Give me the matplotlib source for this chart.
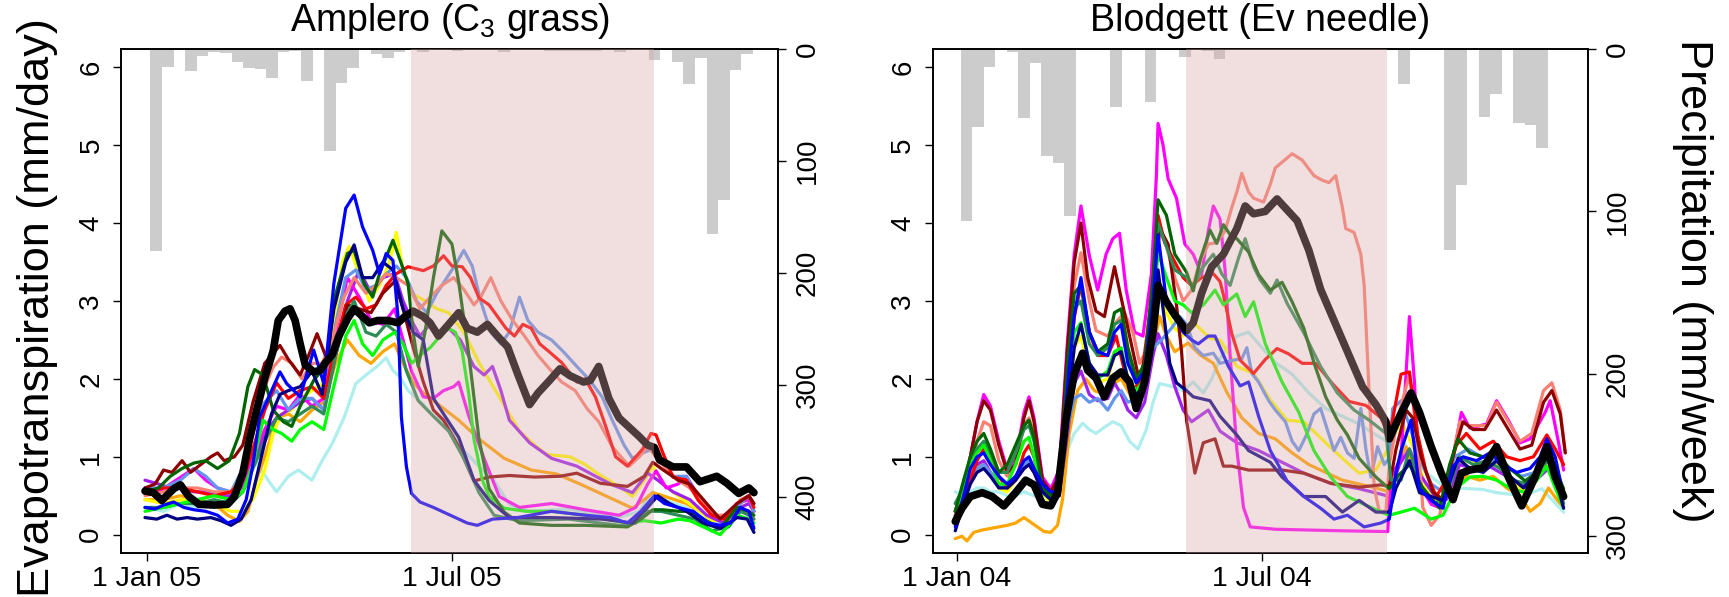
import numpy as np
import matplotlib
matplotlib.use("Agg")
from matplotlib import pyplot as plt

plt.rcParams['font.family'] = ['Liberation Sans', 'DejaVu Sans']
plt.rcParams['mathtext.default'] = 'regular'

# ---------------- Amplero (2005) ----------------
# weekly precipitation, mm/week
amp_precip = [180, 15.8, 0, 19.3, 6.3, 3, 3.9, 11.3, 17.3, 18.2, 25.6, 2.4, 1.8, 28.3, 0, 90.8,
              30, 17.3, 0, 4.5, 7.7, 2.4, 1, 3, 0, 0, 1.5, 0, 0, 0, 2.4, 0, 0, 0, 1.5, 1.5, 1.5,
              1.5, 1.5, 0, 2.4, 0, 0, 9.8, 0, 12, 31, 7.7, 165, 135, 18.8, 4.5]

# evapotranspiration (day of year, mm/day)
amp_obs = [(-1,0.56),(4,0.54),(9,0.44),(16,0.59),(20,0.64),(25,0.49),(31,0.39),(40,0.38),(48,0.39),
           (52,0.49),(57,0.79),(61,1.23),(66,1.67),(70,2.01),(75,2.36),(78,2.75),(82,2.87),(85,2.90),
           (88,2.75),(91,2.45),(94,2.18),(99,2.09),(103,2.11),(106,2.21),(110,2.31),(114,2.55),
           (119,2.77),(123,2.90),(128,2.80),(132,2.72),(137,2.75),(143,2.75),(149,2.72),(153,2.80),
           (158,2.87),(164,2.80),(168,2.72),(173,2.55),(179,2.70),(185,2.85),(190,2.65),(196,2.60),
           (202,2.70),(208,2.55),(214,2.41),(220,2.06),(227,1.67),(232,1.82),(238,1.96),(245,2.13),
           (251,2.04),(259,1.96),(263,1.98),(268,2.16),(274,1.75),(280,1.50),(285,1.40),(292,1.26),
           (297,1.15),(301,1.12),(304,0.96),(312,0.87),(320,0.87),(328,0.68),(338,0.75),(344,0.66),
           (351,0.53),(357,0.60),(360,0.54)]
amp_blue = [(-1,0.35),(5,0.33),(10,0.38),(16,0.42),(22,0.35),(28,0.32),(35,0.3),(42,0.25),(48,0.15),
            (54,0.2),(59,0.45),(63,0.9),(67,1.51),(72,1.75),(79,2.09),(83,1.94),(91,1.77),(99,2.37),
            (105,1.94),(111,3.23),(118,4.19),(123,4.36),(128,3.95),(134,3.65),(138,3.35),(142,3.61),
            (146,3.52),(149,2.8),(151,1.51),(154,0.87),(157,0.53),(162,0.42),(170,0.35),(180,0.25),
            (190,0.15),(196,0.12),(205,0.2),(220,0.22),(240,0.3),(260,0.25),(275,0.22),(285,0.15),
            (293,0.3),(301,0.5),(307,0.4),(315,0.35),(324,0.3),(333,0.15),(340,0.12),(346,0.15),
            (352,0.35),(357,0.3),(360,0.08)]
amp_navy = [(-1,0.22),(6,0.2),(12,0.25),(18,0.2),(24,0.22),(30,0.2),(38,0.22),(44,0.18),(50,0.12),
            (56,0.2),(62,0.45),(68,1.0),(74,1.55),(79,1.8),(84,1.85),(91,1.9),(98,2.1),(104,1.8),
            (111,2.9),(118,3.5),(123,3.72),(128,3.3),(134,3.3),(140,3.5),(146,3.4),(152,2.9),
            (158,2.6),(164,2.5),(170,1.75),(176,1.55),(185,1.25),(194,0.7),(203,0.44),(215,0.22),
            (240,0.22),(270,0.2),(288,0.15),(297,0.35),(303,0.5),(310,0.4),(320,0.3),(330,0.15),
            (340,0.08),(350,0.22),(356,0.2),(360,0.03)]
amp_red = [(-1,0.55),(10,0.6),(20,0.6),(30,0.55),(40,0.5),(50,0.55),(57,0.7),(63,1.1),(70,1.6),
           (77,1.95),(84,1.75),(91,1.85),(98,1.9),(105,1.75),(112,2.45),(118,2.95),(124,3.05),
           (130,2.9),(136,2.95),(142,3.2),(148,3.35),(155,3.44),(164,3.39),(170,3.45),(176,3.58),
           (181,3.45),(187,3.44),(192,3.3),(197,3.04),(203,2.95),(208,2.8),(213,2.65),(218,2.55),
           (223,2.7),(228,2.65),(233,2.45),(238,2.36),(246,2.21),(255,1.96),(260,2.0),(266,1.77),
           (272,1.4),(278,1.0),(285,0.88),(290,1.0),(294,1.1),(299,1.3),(302,1.28),(306,1.05),
           (312,0.74),(320,0.7),(327,0.44),(335,0.25),(342,0.2),(350,0.4),(357,0.5),(360,0.35)]
amp_salmon = [(-1,0.5),(10,0.55),(20,0.6),(30,0.6),(40,0.55),(50,0.55),(57,0.75),(63,1.3),(70,1.9),
              (75,2.15),(80,2.28),(86,2.2),(92,2.0),(98,2.2),(104,2.2),(110,2.5),(117,3.05),
              (123,3.3),(130,3.1),(136,3.2),(142,3.35),(148,3.3),(155,3.2),(162,2.9),(168,3.05),
              (175,3.2),(182,3.3),(188,3.15),(194,2.95),(198,3.05),(204,3.3),(210,3.0),(217,2.75),
              (224,2.55),(232,2.3),(240,2.1),(246,1.96),(254,1.85),(261,1.62),(268,1.45),(276,1.13),
              (286,0.88),(292,1.0),(297,1.13),(302,1.0),(308,0.85),(315,0.7),(322,0.6),(330,0.4),
              (338,0.25),(345,0.25),(352,0.45),(357,0.5),(360,0.4)]
amp_cornflower = [(-1,0.6),(10,0.6),(20,0.7),(28,0.85),(35,0.75),(42,0.6),(50,0.55),(57,0.85),
                  (63,1.45),(70,1.7),(77,1.85),(84,1.6),(91,1.75),(98,1.75),(105,1.6),(112,2.7),
                  (118,3.3),(124,3.4),(130,3.15),(136,3.2),(142,3.35),(148,3.45),(154,3.3),(160,3.0),
                  (166,2.85),(172,3.1),(178,3.3),(184,3.5),(188,3.65),(193,3.45),(198,3.0),(204,2.6),
                  (210,2.45),(215,2.6),(221,3.05),(226,2.75),(232,2.6),(240,2.5),(247,2.35),
                  (255,2.16),(262,2.0),(270,1.77),(276,1.47),(283,1.15),(288,0.98),(294,1.05),
                  (300,1.1),(305,0.95),(312,0.75),(320,0.75),(328,0.45),(336,0.25),(344,0.2),
                  (352,0.4),(357,0.5),(360,0.3)]
amp_darkgreen = [(-1,0.55),(7,0.6),(14,0.75),(21,0.85),(28,0.92),(35,0.95),(42,0.85),(49,0.95),
                 (55,1.3),(60,1.9),(64,2.12),(69,2.05),(75,1.6),(81,1.45),(86,1.39),(91,1.65),
                 (99,1.98),(107,2.2),(111,3.01),(119,3.61),(123,3.65),(129,3.22),(134,3.05),
                 (138,3.35),(146,3.78),(151,3.48),(155,3.22),(158,2.6),(161,2.16),(165,2.6),
                 (170,3.3),(175,3.9),(181,3.73),(185,3.24),(191,2.31),(197,1.23),(203,0.59),
                 (212,0.29),(221,0.15),(240,0.12),(260,0.12),(285,0.1),(293,0.2),(300,0.32),
                 (306,0.32),(315,0.3),(322,0.3),(330,0.2),(340,0.08),(350,0.35),(357,0.3),(360,0.25)]
amp_lime = [(-1,0.3),(10,0.35),(20,0.4),(30,0.45),(40,0.5),(50,0.45),(57,0.55),(63,0.9),(69,1.47),
            (75,1.35),(80,1.3),(86,1.2),(91,1.35),(98,1.45),(105,1.35),(112,2.0),(118,2.55),
            (123,2.75),(128,2.45),(134,2.3),(140,2.5),(147,2.6),(152,2.45),(157,2.2),(162,2.3),
            (168,2.4),(174,2.55),(179,2.65),(183,2.6),(187,2.36),(191,1.8),(194,1.23),(199,0.7),
            (203,0.49),(212,0.34),(225,0.3),(240,0.3),(260,0.25),(285,0.15),(295,0.18),(305,0.15),
            (315,0.2),(322,0.18),(330,0.1),(340,0.0),(350,0.25),(357,0.2),(360,0.15)]
amp_yellow = [(-1,0.45),(10,0.4),(20,0.45),(30,0.45),(40,0.4),(50,0.3),(56,0.3),(63,0.45),(70,0.83),
              (75,1.3),(80,1.55),(86,1.6),(91,1.75),(98,1.85),(105,1.95),(110,2.5),(116,3.5),
              (120,3.7),(126,3.35),(132,3.0),(138,3.2),(144,3.5),(148,3.88),(152,3.4),(157,3.1),
              (165,3.0),(172,2.9),(179,2.85),(188,2.6),(197,2.21),(209,1.77),(221,1.33),(230,1.15),
              (237,1.03),(251,1.0),(260,0.9),(267,0.79),(282,0.59),(288,0.49),(295,0.7),(300,0.88),
              (306,0.65),(315,0.5),(325,0.35),(335,0.18),(345,0.2),(352,0.35),(357,0.4),(360,0.3)]
amp_orange = [(-1,0.45),(10,0.45),(20,0.5),(30,0.45),(40,0.4),(48,0.25),(55,0.17),(60,0.3),(65,0.7),
              (70,1.0),(77,1.5),(84,1.55),(91,1.45),(98,1.6),(105,1.7),(112,2.2),(119,2.5),
              (126,2.3),(133,2.2),(140,2.35),(147,2.45),(152,2.2),(158,1.95),(164,1.82),(173,1.67),
              (185,1.47),(197,1.23),(212,0.98),(228,0.83),(243,0.78),(258,0.64),(273,0.49),
              (288,0.34),(295,0.45),(300,0.54),(306,0.5),(320,0.4),(332,0.25),(340,0.18),(350,0.3),
              (357,0.3),(360,0.2)]
amp_magenta = [(-1,0.6),(7,0.55),(14,0.65),(21,0.75),(28,0.85),(35,0.7),(42,0.6),(49,0.55),
               (56,0.6),(63,1.0),(70,1.35),(77,1.65),(84,1.6),(91,1.8),(98,1.65),(105,1.75),
               (112,2.6),(119,3.3),(126,3.05),(133,2.75),(140,2.7),(147,2.9),(152,2.5),(157,2.1),
               (164,1.77),(170,1.75),(176,1.85),(182,1.9),(185,1.96),(191,1.52),(200,0.98),
               (209,0.49),(221,0.35),(240,0.4),(260,0.32),(280,0.25),(290,0.35),(297,0.65),
               (302,0.82),(308,0.6),(315,0.65),(320,0.75),(327,0.5),(335,0.25),(342,0.2),
               (350,0.4),(357,0.45),(360,0.3)]
amp_purple = [(-1,0.7),(7,0.65),(14,0.6),(21,0.6),(28,0.55),(35,0.55),(42,0.5),(49,0.5),(56,0.6),
              (63,0.9),(70,1.3),(77,1.5),(84,1.6),(91,1.7),(98,1.75),(105,1.6),(112,2.3),(119,3.0),
              (126,3.4),(133,3.1),(140,3.3),(147,3.35),(152,3.0),(157,2.75),(162,2.55),(168,2.7),
              (173,2.55),(179,2.65),(186,2.5),(194,2.16),(200,2.05),(205,2.16),(210,1.85),
              (215,1.47),(227,1.18),(240,0.98),(255,0.88),(267,0.74),(276,0.64),(288,0.54),
              (297,0.79),(303,0.7),(312,0.55),(322,0.45),(332,0.25),(342,0.15),(352,0.35),
              (357,0.4),(360,0.3)]
amp_darkred = [(-1,0.6),(5,0.65),(10,0.83),(15,0.8),(21,0.95),(26,0.8),(32,0.9),(38,1.0),(42,1.05),
               (46,0.95),(52,1.0),(57,1.15),(63,1.7),(70,2.2),(79,2.43),(84,2.25),(91,2.05),
               (96,2.3),(101,2.58),(106,2.3),(112,2.3),(119,2.95),(126,2.9),(133,2.85),(140,3.1),
               (147,3.25),(152,2.9),(158,2.4),(164,1.96),(170,1.6),(176,1.47),(185,1.13),(194,0.69),
               (203,0.74),(215,0.76),(230,0.74),(245,0.75),(255,0.79),(269,0.66),(285,0.62),
               (295,0.75),(300,0.93),(305,0.85),(315,0.7),(322,0.65),(330,0.45),(340,0.2),
               (350,0.4),(357,0.5),(360,0.4)]
amp_seagreen = [(-1,0.35),(10,0.35),(20,0.4),(30,0.4),(40,0.45),(50,0.4),(57,0.55),(63,0.85),
                (70,1.2),(77,1.5),(84,1.45),(91,1.55),(98,1.65),(105,1.55),(112,2.3),(119,2.85),
                (123,3.0),(130,2.6),(136,2.55),(142,2.7),(148,2.6),(154,2.1),(161,1.72),(170,1.52),
                (179,1.33),(188,0.98),(197,0.54),(206,0.25),(220,0.18),(250,0.2),(280,0.12),
                (290,0.15),(297,0.3),(305,0.3),(315,0.25),(325,0.2),(335,0.05),(345,0.1),(352,0.3),
                (357,0.25),(360,0.2)]
amp_paleturq = [(-1,0.35),(10,0.3),(20,0.4),(30,0.35),(40,0.4),(49,0.45),(56,0.7),(61,1.05),
                (66,0.9),(72,0.7),(77,0.55),(84,0.75),(90,0.83),(98,0.7),(104,0.95),(110,1.17),
                (117,1.5),(124,1.94),(130,2.05),(136,2.15),(142,2.27),(146,2.11),(150,2.03),
                (155,1.85),(164,1.67),(170,1.52),(179,1.42),(188,1.08),(197,0.88),(206,0.69),
                (215,0.39),(227,0.3),(250,0.33),(280,0.22),(292,0.3),(300,0.55),(306,0.45),
                (320,0.35),(332,0.2),(340,0.15),(350,0.3),(357,0.3),(360,0.2)]

# ---------------- Blodgett (2004) ----------------
blo_precip = [105.7, 47.8, 10.9, 0, 2, 42.3, 8.8, 65.7, 70, 102.7, 0, 0, 0, 35.5, 0, 0, 32.4, 0, 0,
              4.7, 0, 1, 6.2, 0, 0, 0, 0, 0, 0, 0, 0, 0, 0, 0, 0, 0, 0, 0, 21.8, 0, 0, 0, 124, 83.8,
              0, 41.7, 27.7, 0, 45.4, 46.8, 60.8, 0]

blo_obs = [(-1,0.17),(3,0.34),(8,0.49),(15,0.54),(21,0.49),(28,0.37),(35,0.54),(41,0.7),(46,0.64),
           (51,0.39),(56,0.37),(60,0.54),(65,1.47),(70,2.06),(75,2.33),(78,2.11),(83,2.01),(88,1.77),
           (93,2.01),(98,2.09),(103,1.96),(107,1.62),(112,1.96),(117,2.6),(120,3.2),(125,2.99),
           (130,2.82),(137,2.62),(141,2.72),(146,3.1),(152,3.44),(159,3.6),(167,3.93),(172,4.22),
           (177,4.12),(184,4.15),(191,4.31),(197,4.17),(203,4.03),(210,3.65),(217,3.15),(224,2.8),
           (233,2.35),(242,1.9),(250,1.67),(256,1.45),(258,1.23),(263,1.47),(271,1.82),(276,1.57),
           (283,1.13),(289,0.79),(296,0.45),(301,0.79),(306,0.83),(314,0.86),(322,1.13),(329,0.74),
           (337,0.37),(345,0.74),(352,1.13),(357,0.74),(362,0.49)]
blo_magenta = [(-1,0.3),(4,0.55),(8,1.0),(12,1.45),(16,1.8),(20,1.65),(25,1.2),(30,0.83),(35,0.95),
               (40,1.57),(43,1.77),(46,1.5),(51,0.74),(56,0.59),(61,0.83),(66,2.5),(70,3.6),
               (74,4.22),(79,3.58),(84,3.14),(89,3.6),(93,3.8),(97,3.87),(101,3.14),(106,2.6),
               (111,2.55),(116,3.34),(119,4.6),(120,5.28),(123,5.0),(126,4.57),(131,4.32),
               (136,3.73),(141,3.6),(146,3.34),(150,3.9),(153,4.22),(157,4.05),(160,3.4),(163,2.3),
               (167,1.1),(171,0.35),(175,0.1),(190,0.07),(230,0.05),(257,0.04),(259,0.74),
               (265,0.98),(270,2.8),(273,1.96),(276,0.64),(283,0.39),(289,0.34),(296,0.98),
               (301,1.57),(306,1.37),(316,1.42),(322,1.72),(329,1.47),(336,1.18),(342,1.23),
               (351,1.57),(354,1.72),(359,1.18),(362,0.83)]
blo_darkred = [(-1,0.3),(4,0.6),(8,1.0),(12,1.45),(16,1.72),(20,1.6),(25,1.15),(30,0.8),(35,0.9),
               (40,1.5),(43,1.72),(46,1.45),(51,0.7),(56,0.55),(61,0.75),(66,2.4),(70,3.5),
               (74,4.0),(78,3.3),(83,2.87),(88,2.8),(94,3.44),(98,3.04),(102,2.65),(109,1.96),
               (114,2.45),(118,3.3),(121,3.93),(126,3.73),(131,2.95),(134,2.36),(137,1.47),
               (142,0.79),(147,1.18),(154,1.23),(159,0.88),(164,0.88),(174,0.83),(194,0.83),
               (207,0.79),(223,0.66),(240,0.61),(253,0.64),(258,0.62),(262,1.1),(268,1.6),
               (272,1.5),(277,1.0),(284,0.55),(290,0.45),(297,1.1),(302,1.45),(308,1.35),
               (315,1.35),(322,1.6),(329,1.35),(336,1.1),(343,1.15),(350,1.7),(355,1.85),
               (360,1.55),(363,1.05)]
blo_salmon = [(-1,0.3),(4,0.5),(8,0.8),(12,1.2),(16,1.45),(20,1.4),(25,0.95),(30,0.75),(35,0.9),
              (40,1.4),(43,1.5),(46,1.3),(51,0.6),(56,0.5),(61,0.7),(66,2.2),(70,3.2),(74,3.62),
              (79,3.0),(83,2.62),(90,2.55),(95,2.73),(100,2.85),(105,2.6),(109,2.2),(114,2.4),
              (118,3.3),(121,3.9),(125,3.7),(130,3.3),(135,3.0),(140,3.14),(145,3.5),(150,3.73),
              (155,3.75),(160,3.9),(164,4.2),(167,4.4),(170,4.64),(174,4.4),(177,4.32),(183,4.27),
              (187,4.5),(190,4.71),(195,4.8),(200,4.89),(206,4.81),(213,4.61),(218,4.55),
              (222,4.52),(226,4.61),(230,4.2),(232,3.93),(237,3.88),(241,3.6),(243,3.2),(246,1.8),
              (249,0.6),(252,0.3),(256,0.3),(258,0.9),(263,1.5),(270,2.05),(275,1.2),(278,0.35),
              (283,0.12),(288,0.25),(295,0.9),(300,1.45),(306,1.4),(316,1.4),(322,1.7),(329,1.45),
              (336,1.2),(343,1.3),(350,1.85),(355,1.95),(360,1.6),(363,1.05)]
blo_red = [(-1,0.25),(4,0.45),(8,0.7),(12,0.95),(16,1.1),(20,1.0),(25,0.75),(30,0.6),(35,0.7),
           (40,1.05),(43,1.15),(46,1.0),(51,0.55),(56,0.5),(61,0.6),(66,1.8),(70,2.8),(74,3.2),
           (79,2.6),(84,2.3),(90,2.3),(95,2.55),(100,2.1),(105,1.85),(110,2.0),(116,3.0),(120,4.1),
           (124,3.75),(130,3.5),(135,3.3),(140,3.2),(146,3.3),(153,3.35),(157,3.25),(159,3.08),
           (164,2.58),(169,2.24),(177,2.07),(184,2.25),(191,2.39),(198,2.32),(206,2.2),(214,2.2),
           (224,1.94),(234,1.71),(244,1.66),(253,1.5),(258,1.25),(265,2.06),(270,2.09),(275,1.28),
           (280,0.8),(286,0.49),(292,0.7),(298,1.15),(304,1.3),(312,1.1),(320,1.2),(328,1.0),
           (336,0.95),(344,1.0),(352,1.28),(357,1.1),(362,0.9)]
blo_blue = [(-1,0.1),(4,0.5),(8,0.85),(12,1.0),(16,1.05),(20,0.9),(25,0.75),(30,0.65),(35,0.75),
            (40,0.95),(43,1.0),(46,0.85),(51,0.65),(56,0.55),(61,0.55),(66,1.9),(70,2.8),(74,3.3),
            (79,2.6),(84,2.35),(90,2.3),(94,2.6),(98,2.7),(102,2.2),(107,1.95),(112,2.1),(117,3.0),
            (120,3.85),(125,3.0),(130,2.8),(135,2.6),(140,2.5),(144,2.45),(150,2.55),(154,2.55),
            (162,2.16),(169,1.91),(174,1.96),(180,1.52),(187,1.08),(197,0.69),(207,0.49),
            (217,0.34),(225,0.2),(233,0.25),(243,0.1),(253,0.15),(258,0.2),(262,0.8),(265,1.08),
            (271,1.47),(276,0.59),(283,0.44),(290,0.34),(296,0.88),(302,1.0),(310,0.95),(318,1.05),
            (326,0.9),(334,0.8),(342,0.85),(348,1.0),(352,1.23),(357,1.0),(362,0.49)]
blo_navy = [(-1,0.05),(4,0.4),(8,0.65),(12,0.8),(16,0.85),(20,0.75),(25,0.6),(30,0.6),(35,0.7),
            (40,0.85),(43,0.9),(46,0.8),(51,0.55),(56,0.45),(61,0.5),(66,1.6),(70,2.4),(74,2.7),
            (79,2.2),(84,2.05),(90,2.05),(94,2.3),(98,2.35),(102,2.0),(107,1.8),(112,1.9),(117,2.6),
            (120,3.4),(123,2.9),(127,2.2),(131,1.95),(137,1.85),(141,1.77),(151,1.72),(157,1.52),
            (167,1.28),(174,1.08),(187,0.93),(194,0.74),(207,0.49),(220,0.49),(230,0.29),
            (240,0.44),(250,0.29),(258,0.29),(262,0.6),(270,0.95),(276,0.54),(290,0.44),(299,0.98),
            (306,0.85),(314,0.8),(322,0.95),(330,0.75),(338,0.6),(346,0.8),(352,1.0),(357,0.75),
            (362,0.34)]
blo_darkgreen = [(-1,0.3),(4,0.7),(8,1.0),(12,1.2),(16,1.3),(20,1.1),(25,0.8),(30,0.9),(35,1.15),
                 (40,1.4),(43,1.47),(46,1.25),(51,0.6),(56,0.5),(61,0.6),(66,2.2),(70,3.1),(74,3.2),
                 (79,2.6),(84,2.35),(90,2.45),(94,2.85),(98,2.9),(102,2.4),(107,2.0),(112,2.2),
                 (117,3.3),(120,4.3),(125,4.1),(130,3.6),(137,3.37),(141,3.13),(145,3.52),
                 (151,3.91),(155,3.74),(159,3.98),(164,3.82),(167,3.8),(174,3.63),(180,3.34),
                 (187,3.14),(194,3.24),(200,2.99),(207,2.65),(213,2.21),(220,1.77),(227,1.47),
                 (233,1.28),(240,0.98),(250,0.74),(258,0.59),(263,0.75),(270,0.9),(278,0.6),
                 (288,0.34),(294,0.9),(299,1.23),(306,1.05),(314,1.0),(322,1.03),(330,0.85),
                 (339,0.69),(346,0.8),(352,0.98),(357,0.85),(362,0.59)]
blo_seagreen = [(-1,0.4),(4,0.6),(8,0.9),(12,1.1),(16,1.2),(20,1.05),(25,0.8),(30,0.8),(35,1.05),
                (40,1.35),(43,1.4),(46,1.2),(51,0.6),(56,0.5),(61,0.6),(66,2.0),(70,2.9),(74,3.0),
                (79,2.45),(84,2.3),(90,2.4),(94,2.7),(98,2.75),(102,2.3),(107,1.95),(112,2.15),
                (117,3.2),(120,4.0),(125,3.7),(130,3.4),(137,3.3),(141,3.18),(147,3.44),(153,3.6),
                (158,3.35),(163,3.2),(168,3.55),(172,3.8),(177,3.44),(181,3.27),(187,3.1),
                (191,3.27),(197,2.97),(207,2.59),(217,2.16),(227,1.82),(237,1.6),(246,1.47),
                (256,1.3),(259,0.7),(265,0.7),(270,1.1),(276,0.65),(285,0.4),(292,0.5),(300,1.0),
                (308,0.9),(316,0.95),(324,0.85),(332,0.7),(340,0.65),(348,0.85),(353,0.95),
                (358,0.7),(362,0.4)]
blo_lime = [(-1,0.3),(4,0.6),(8,0.9),(12,1.05),(16,1.15),(20,0.95),(25,0.65),(30,0.65),(35,0.9),
            (40,1.2),(43,1.25),(46,1.0),(51,0.55),(56,0.45),(61,0.55),(66,1.9),(70,2.6),(74,2.72),
            (79,2.2),(84,2.0),(90,2.1),(94,2.35),(98,2.4),(102,2.0),(107,1.85),(112,2.0),(117,2.9),
            (120,3.62),(125,3.3),(130,3.0),(135,2.95),(140,2.85),(147,2.95),(154,3.14),(159,2.95),
            (167,3.09),(172,2.8),(177,2.99),(184,2.45),(194,1.96),(204,1.57),(213,1.08),(223,0.74),
            (233,0.49),(243,0.39),(253,0.29),(258,0.25),(265,0.29),(273,0.34),(283,0.2),(290,0.25),
            (298,0.6),(306,0.74),(314,0.75),(322,0.7),(330,0.6),(339,0.54),(346,0.7),(352,0.88),
            (357,0.6),(362,0.34)]
blo_yellow = [(-1,0.2),(4,0.45),(8,0.7),(12,0.85),(16,0.95),(20,0.8),(25,0.6),(30,0.55),(35,0.7),
              (40,0.9),(43,0.95),(46,0.85),(51,0.55),(56,0.4),(61,0.5),(66,1.6),(70,2.4),(74,2.55),
              (79,2.1),(84,1.95),(90,2.0),(94,2.3),(98,2.35),(102,2.0),(107,1.75),(112,1.95),
              (117,2.6),(120,3.1),(125,2.85),(130,2.65),(135,2.55),(141,2.73),(151,2.52),(157,2.5),
              (167,2.16),(177,2.07),(187,1.73),(197,1.47),(207,1.45),(220,1.18),(230,0.98),
              (240,0.79),(250,0.83),(258,1.13),(265,1.47),(273,1.08),(280,0.6),(286,0.39),
              (293,0.5),(300,0.9),(306,0.98),(314,0.85),(322,0.9),(330,0.75),(338,0.55),(346,0.7),
              (352,0.95),(357,0.8),(362,0.55)]
blo_orange = [(-1,-0.05),(3,-0.02),(6,-0.08),(10,0.03),(15,0.06),(20,0.08),(25,0.1),(30,0.12),
              (35,0.15),(40,0.22),(44,0.16),(48,0.1),(52,0.04),(56,0.03),(60,0.12),(63,0.45),
              (67,1.3),(72,1.85),(77,2.0),(82,1.85),(88,1.8),(94,1.95),(98,2.0),(102,1.85),
              (107,1.65),(112,1.85),(117,2.4),(121,2.8),(125,2.55),(130,2.35),(138,2.46),
              (145,2.31),(153,2.2),(161,1.83),(170,1.5),(180,1.3),(190,1.23),(200,1.05),(210,0.9),
              (220,0.8),(230,0.7),(240,0.65),(250,0.6),(258,0.55),(263,0.9),(268,1.13),(273,0.83),
              (280,0.5),(288,0.35),(296,0.6),(304,0.75),(312,0.7),(320,0.75),(328,0.6),(336,0.5),
              (342,0.3),(348,0.4),(353,0.6),(358,0.45),(362,0.35)]
blo_purple = [(-1,0.3),(4,0.55),(8,0.8),(12,0.9),(16,0.95),(20,0.8),(25,0.65),(30,0.6),(35,0.7),
              (40,0.85),(43,0.9),(46,0.8),(51,0.55),(56,0.45),(61,0.5),(66,1.3),(70,1.95),(74,2.1),
              (79,1.8),(84,1.72),(90,1.75),(94,1.95),(98,1.8),(102,1.6),(107,1.5),(112,1.7),
              (117,2.3),(120,2.58),(125,2.3),(130,1.9),(135,1.6),(140,1.45),(150,1.6),(157,1.33),
              (167,1.18),(180,1.08),(194,0.93),(207,0.79),(223,0.66),(240,0.59),(253,0.52),
              (258,0.49),(264,0.9),(270,1.1),(277,0.75),(285,0.5),(292,0.45),(300,0.9),(308,0.85),
              (316,0.9),(324,0.8),(332,0.7),(340,0.6),(348,0.75),(353,0.85),(358,0.8),(362,0.55)]
blo_cornflower = [(-1,0.4),(4,0.6),(8,0.75),(12,0.85),(16,0.9),(20,0.8),(25,0.65),(30,0.6),(35,0.75),
                  (40,0.9),(43,0.95),(46,0.85),(51,0.55),(56,0.45),(61,0.55),(66,1.4),(70,1.75),
                  (74,1.8),(79,1.7),(84,1.75),(90,1.6),(94,1.75),(98,1.85),(102,1.7),(107,1.75),
                  (112,2.0),(117,2.4),(122,2.5),(128,2.65),(133,2.8),(137,2.7),(142,2.4),(147,2.3),
                  (153,2.33),(157,2.2),(165,2.24),(170,2.26),(173,2.4),(176,2.07),(180,1.96),
                  (186,1.72),(190,1.6),(196,1.45),(200,1.2),(204,1.08),(209,1.3),(213,1.55),
                  (217,1.62),(221,1.35),(225,1.08),(229,1.25),(233,1.05),(237,0.98),(241,1.62),
                  (244,1.1),(247,0.74),(251,1.13),(255,0.9),(258,0.98),(260,1.62),(265,1.72),
                  (270,1.4),(276,0.98),(283,0.65),(290,0.55),(297,1.0),(305,1.1),(313,1.0),
                  (321,0.95),(329,0.85),(337,0.75),(345,0.8),(352,0.85),(357,0.7),(362,0.55)]
blo_paleturq = [(-1,0.55),(4,0.5),(8,0.55),(12,0.6),(16,0.6),(20,0.55),(25,0.55),(30,0.5),(35,0.5),
                (40,0.55),(46,0.5),(51,0.45),(56,0.4),(61,0.5),(66,1.09),(70,1.3),(75,1.43),
                (79,1.35),(83,1.3),(88,1.38),(93,1.45),(98,1.4),(103,1.2),(108,1.1),(113,1.35),
                (117,1.7),(121,1.94),(125,1.92),(129,1.9),(135,1.85),(141,1.96),(147,1.82),
                (152,2.0),(157,2.26),(163,2.45),(167,2.55),(174,2.6),(180,2.45),(190,2.21),
                (200,2.06),(210,1.82),(220,1.62),(230,1.52),(240,1.42),(250,1.28),(258,1.18),
                (265,1.23),(272,1.0),(280,0.8),(289,0.64),(297,0.6),(306,0.59),(314,0.58),
                (322,0.54),(330,0.52),(339,0.49),(344,0.55),(349,0.59),(355,0.45),(362,0.29)]

# model colours, drawn in this order, observations on top
model_colors = ["#AFEEEE", "#FFA500", "#FFFF00", "#A020F0", "#FF00FF", "#6495ED", "#FA8072",
                "#FF0000", "#8B0000", "#2E8B57", "#00FF00", "#006400", "#000080", "#0000FF"]
amp_models = [amp_paleturq, amp_orange, amp_yellow, amp_purple, amp_magenta, amp_cornflower,
              amp_salmon, amp_red, amp_darkred, amp_seagreen, amp_lime, amp_darkgreen, amp_navy,
              amp_blue]
blo_models = [blo_paleturq, blo_orange, blo_yellow, blo_purple, blo_magenta, blo_cornflower,
              blo_salmon, blo_red, blo_darkred, blo_seagreen, blo_lime, blo_darkgreen, blo_navy,
              blo_blue]


def panel(rect, models, obs, precip, pmax, pticks, dry, ticklabels, jul1, xlim, title):
    ax = fig.add_axes(rect)
    axp = ax.twinx()
    ax.set_zorder(axp.get_zorder() + 1)
    ax.patch.set_visible(False)

    # weekly rain hanging from the top
    step = 6.87
    starts = 2.2 + step * np.arange(len(precip))
    axp.bar(starts, precip, width=step, align="edge", color="#cccccc", lw=0)
    axp.set_ylim(pmax, 0)
    axp.set_yticks(pticks)

    for pts, col in zip(models, model_colors):
        d, v = zip(*pts)
        ax.plot(d, v, color=col, lw=2.3, solid_joinstyle="round", solid_capstyle="round")
    d, v = zip(*obs)
    ax.plot(d, v, color="black", lw=5.5, solid_joinstyle="round", solid_capstyle="round", zorder=5)

    # dry season
    ax.axvspan(dry[0], dry[1], color=(0.85, 0.65, 0.65), alpha=0.36, lw=0, zorder=10)

    ax.set_xlim(*xlim)
    ax.set_ylim(-0.235, 6.235)
    ax.set_xticks([0, jul1])
    ax.set_xticklabels(ticklabels)
    ax.set_yticks(range(7))
    ax.tick_params(axis="x", direction="out", length=6, width=1, labelsize=20.5, pad=3)
    ax.tick_params(axis="y", direction="out", length=6, width=1, labelsize=20, pad=6)
    axp.tick_params(axis="y", direction="out", length=6, width=1, labelsize=20, pad=6)
    for lab in ax.get_yticklabels():
        lab.set_rotation(90)
        lab.set_va("center")
    for lab in axp.get_yticklabels():
        lab.set_rotation(90)
        lab.set_va("center")
    for a in (ax, axp):
        for s in a.spines.values():
            s.set_linewidth(1.2)
    ax.set_title(title, fontsize=27, pad=13)
    return ax


fig = plt.figure(figsize=(17.29, 5.97), dpi=100)

panel([0.0700, 0.0737, 0.3800, 0.8442], amp_models, amp_obs, amp_precip, 450, [0, 100, 200, 300, 400],
      (156.7, 300.8), ["1 Jan 05", "1 Jul 05"], 181, (-15.2, 374.3), "Amplero (C$_3$ grass)")
panel([0.5396, 0.0737, 0.3788, 0.8442], blo_models, blo_obs, blo_precip, 310.4, [0, 100, 200, 300],
      (136.9, 256.9), ["1 Jan 04", "1 Jul 04"], 182, (-14.3, 376.5), "Blodgett (Ev needle)")

fig.text(0.0214, 0.484, "Evapotranspiration (mm/day)", rotation=90, fontsize=32.5,
         va="center", ha="center")
fig.text(0.979, 0.530, "Precipitation (mm/week)", rotation=270, fontsize=32.5,
         va="center", ha="center")

plt.savefig("out.png", dpi=100)
